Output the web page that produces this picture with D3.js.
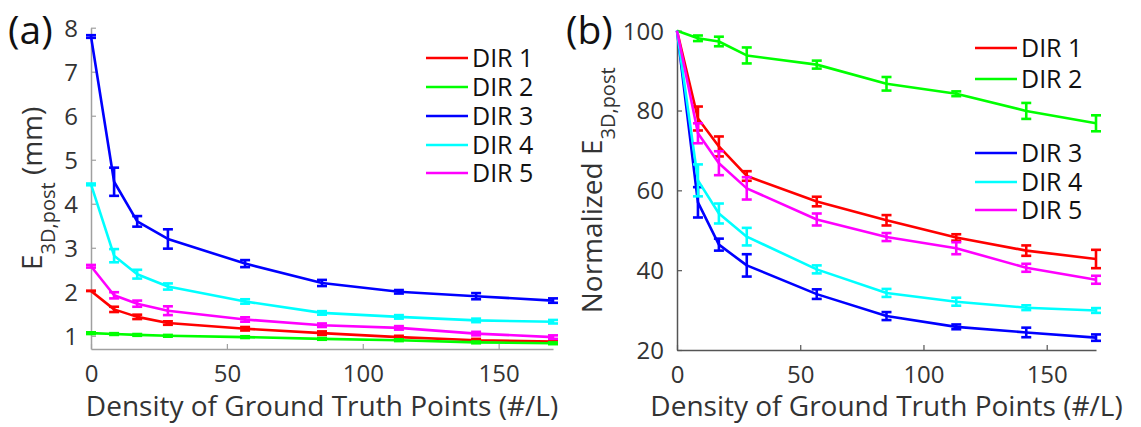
<!DOCTYPE html>
<html>
<head>
<meta charset="utf-8">
<script src="https://cdn.jsdelivr.net/npm/d3@7"></script>
<style>
  body { margin: 0; background: #fff; }
  svg { font-family: "Open Sans", sans-serif; }
</style>
</head>
<body>
<div id="chart"></div>
<script>
// shared x values (density, #/L)
const density = [0, 8.5, 17, 28.3, 56.7, 85, 113.3, 141.7, 170];
const seriesNames = ["DIR 1", "DIR 2", "DIR 3", "DIR 4", "DIR 5"];
const seriesColors = ["#ff0000", "#00ff00", "#0000ff", "#00ffff", "#ff00ff"];

// panel (a): E3D,post in mm
const errA = [
  [2.02, 1.6, 1.43, 1.29, 1.16, 1.06, 0.97, 0.9, 0.87],
  [1.06, 1.04, 1.02, 1.0, 0.97, 0.93, 0.9, 0.85, 0.83],
  [7.8, 4.5, 3.6, 3.2, 2.64, 2.2, 2.0, 1.9, 1.8],
  [4.44, 2.82, 2.4, 2.12, 1.78, 1.52, 1.43, 1.35, 1.32],
  [2.58, 1.92, 1.73, 1.57, 1.37, 1.24, 1.18, 1.05, 0.97]
];
const sdA = [
  [0, 0.06, 0.05, 0.04, 0.04, 0.04, 0.03, 0.03, 0.03],
  [0.02, 0.02, 0.02, 0.02, 0.02, 0.02, 0.02, 0.02, 0.02],
  [0.03, 0.32, 0.12, 0.22, 0.08, 0.07, 0.04, 0.07, 0.05],
  [0.02, 0.15, 0.1, 0.07, 0.05, 0.04, 0.04, 0.04, 0.04],
  [0.03, 0.07, 0.07, 0.1, 0.05, 0.04, 0.04, 0.04, 0.04]
];
const yTicksA = [1, 2, 3, 4, 5, 6, 7, 8];

// panel (b): normalized E3D,post
const errB = [
  [100, 78, 71, 63.6, 57.2, 52.5, 48.2, 44.9, 42.8],
  [100, 98.1, 97.3, 93.8, 91.5, 86.7, 84.2, 79.9, 76.8],
  [100, 57, 46.4, 41.2, 34, 28.5, 25.8, 24.4, 23.1],
  [100, 62.5, 54.2, 48.4, 40.2, 34.3, 32.1, 30.6, 29.9],
  [100, 74.3, 66.8, 60.5, 52.7, 48.3, 45.5, 40.6, 37.6]
];
const sdB = [
  [0, 3, 2.5, 1.2, 1.2, 1.3, 0.8, 1.3, 2.3],
  [0, 0.7, 1.2, 2, 1, 1.7, 0.6, 2, 2],
  [0, 3.8, 1.5, 2.8, 1.2, 1, 0.6, 1.2, 0.8],
  [0, 4, 2.5, 2.2, 1, 1, 1, 0.6, 0.6],
  [0, 2.5, 3, 2.8, 1.5, 1, 1.5, 1, 1]
];
const yTicksB = [20, 40, 60, 80, 100];
const xTicks = [0, 50, 100, 150];

const svg = d3.select("#chart").append("svg")
  .attr("width", 1141)
  .attr("height", 427);

function panel(opt) {
  const x = d3.scaleLinear().domain([0, 170]).range(opt.xr);
  const y = d3.scaleLinear().domain(opt.yd).range(opt.yr);
  const g = svg.append("g");

  // axes (ticks pointing inward, no box)
  const ax = g.append("g")
    .attr("transform", `translate(0,${opt.yr[0]})`)
    .call(d3.axisBottom(x).tickValues(xTicks).tickSizeInner(-5).tickSizeOuter(0).tickPadding(16));
  const ay = g.append("g")
    .attr("transform", `translate(${opt.xr[0]},0)`)
    .call(d3.axisLeft(y).tickValues(opt.yTicks).tickSizeInner(-5).tickSizeOuter(0).tickPadding(13));
  [ax, ay].forEach(a => {
    a.select(".domain").attr("stroke", opt.axisColor).attr("stroke-width", 1.5);
    a.selectAll(".tick line").attr("stroke", opt.axisColor).attr("stroke-width", 1.2);
    a.selectAll(".tick text").attr("fill", "#333").style("font-size", "24px")
      .style("font-family", "Open Sans, sans-serif");
  });
  ay.selectAll(".tick text").attr("dy", "0.35em");

  const line = d3.line().x((d, i) => x(density[i])).y(d => y(d));

  opt.vals.forEach((vals, s) => {
    const c = seriesColors[s];
    g.append("path")
      .datum(vals)
      .attr("fill", "none")
      .attr("stroke", c)
      .attr("stroke-width", 2.6)
      .attr("stroke-linejoin", "round")
      .attr("d", line);
    const eb = g.append("g").attr("stroke", c).attr("stroke-width", 2.6);
    vals.forEach((v, i) => {
      const e = opt.sds[s][i];
      if (e === 0 && opt.skipZero) return;
      const cx = x(density[i]);
      const y0 = y(v - e), y1 = y(v + e);
      eb.append("line").attr("x1", cx).attr("x2", cx).attr("y1", y0).attr("y2", y1);
      eb.append("line").attr("x1", cx - 5).attr("x2", cx + 5).attr("y1", y0).attr("y2", y0);
      eb.append("line").attr("x1", cx - 5).attr("x2", cx + 5).attr("y1", y1).attr("y2", y1);
    });
  });

  // legend
  const lg = g.append("g");
  seriesNames.forEach((n, i) => {
    const ly = opt.legendY[i];
    lg.append("line")
      .attr("x1", opt.legendX).attr("x2", opt.legendX + 42)
      .attr("y1", ly).attr("y2", ly)
      .attr("stroke", seriesColors[i]).attr("stroke-width", 2.6);
    lg.append("text")
      .attr("x", opt.legendX + 46).attr("y", ly)
      .attr("dy", "0.36em")
      .attr("fill", "#111")
      .style("font-size", "25px")
      .text(n);
  });

  // x axis title
  g.append("text")
    .attr("x", (opt.xr[0] + opt.xr[1]) / 2)
    .attr("y", 416)
    .attr("text-anchor", "middle")
    .attr("fill", "#333")
    .style("font-size", "28px")
    .text("Density of Ground Truth Points (#/L)");

  // y axis title with subscript
  const yt = g.append("text")
    .attr("transform", `translate(${opt.yTitleX},${(opt.yr[0] + opt.yr[1]) / 2}) rotate(-90)`)
    .attr("text-anchor", "middle")
    .attr("fill", "#333")
    .style("font-size", "28px");
  yt.append("tspan").text(opt.yTitle[0]);
  yt.append("tspan").attr("dy", 13).style("font-size", "20px").text("3D,post");
  yt.append("tspan").attr("dy", -13).text(opt.yTitle[1]);

  // panel label
  g.append("text")
    .attr("x", opt.labelX).attr("y", 44)
    .attr("fill", "#111")
    .style("font-size", "39px")
    .text(opt.label);
}

panel({
  xr: [91, 553], yd: [0.7, 8], yr: [349, 27.7],
  yTicks: yTicksA, vals: errA, sds: sdA, skipZero: false,
  axisColor: "#a0a0a0",
  legendX: 426, legendY: [58, 87, 116, 145, 173],
  yTitle: ["E", " (mm)"], yTitleX: 42,
  label: "(a)", labelX: 8
});

panel({
  xr: [677, 1096], yd: [20, 100], yr: [350, 30.7],
  yTicks: yTicksB, vals: errB, sds: sdB, skipZero: true,
  axisColor: "#555",
  legendX: 975, legendY: [48, 79, 153, 182, 210],
  yTitle: ["Normalized E", ""], yTitleX: 602,
  label: "(b)", labelX: 566
});
</script>
</body>
</html>
